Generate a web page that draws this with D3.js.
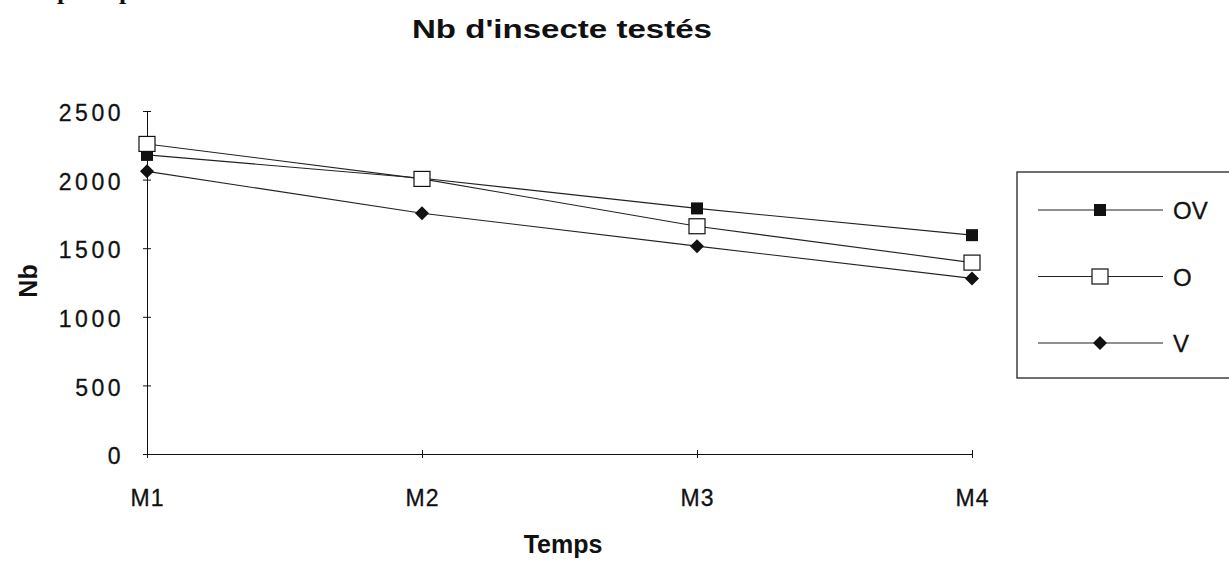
<!DOCTYPE html>
<html>
<head>
<meta charset="utf-8">
<script src="https://cdn.jsdelivr.net/npm/d3@7"></script>
<style>
  body { margin: 0; background: #fff; }
  text { font-family: 'Liberation Sans', Arial, Helvetica, sans-serif; fill: #111; }
</style>
</head>
<body>
<div id="chart-area"></div>
<script>
let categories = ['M1', 'M2', 'M3', 'M4'];
let yTicks = [0, 500, 1000, 1500, 2000, 2500];
let seriesNames = ['OV', 'O', 'V'];
let valuesOV = [2180, 2010, 1790, 1595];
let valuesO = [2260, 2005, 1660, 1395];
let valuesV = [2060, 1755, 1515, 1280];

let width = 1229;
let height = 562;
let series = [
  { name: 'OV', values: valuesOV, marker: 'filled' },
  { name: 'O', values: valuesO, marker: 'open' },
  { name: 'V', values: valuesV, marker: 'diamond' },
];

let xScale = d3.scalePoint().domain(categories).range([147, 972]);
let yScale = d3.scaleLinear().domain([0, 2500]).range([454, 111]);

let svg = d3
  .select('#chart-area')
  .append('svg')
  .attr('width', width)
  .attr('height', height);

//scan leftovers of the text above the chart
svg
  .selectAll('.frag')
  .data([57, 119])
  .enter()
  .append('text')
  .attr('x', (d) => d)
  .attr('y', -1)
  .style('font-family', 'Liberation Serif, serif')
  .style('font-weight', 'bold')
  .attr('font-size', 26)
  .text('p');

//title (the scan is a bit stretched horizontally)
svg
  .append('text')
  .attr('x', 412)
  .attr('y', 38)
  .attr('font-size', 26)
  .attr('font-weight', 'bold')
  .attr('textLength', 300)
  .attr('lengthAdjust', 'spacingAndGlyphs')
  .text("Nb d'insecte testés");

//y axis
let yAxis = svg
  .append('g')
  .attr('transform', 'translate(147,0)')
  .call(
    d3
      .axisLeft(yScale)
      .tickValues(yTicks)
      .tickFormat(d3.format('d'))
      .tickSize(4)
      .tickSizeOuter(0)
      .tickPadding(19),
  );
yAxis.select('.domain').attr('stroke', '#111');
yAxis.selectAll('.tick line').attr('x1', -4).attr('x2', 4).attr('stroke', '#111');
yAxis
  .selectAll('.tick text')
  .attr('font-size', 23)
  .attr('letter-spacing', 3.5)
  .attr('font-family', null)
  .attr('stroke', '#111')
  .attr('stroke-width', 0.3)
  .attr('dy', '0.42em');

//x axis
let xAxis = svg
  .append('g')
  .attr('transform', 'translate(0,454)')
  .call(d3.axisBottom(xScale).tickSize(4).tickSizeOuter(0).tickPadding(32));
xAxis.select('.domain').attr('stroke', '#111');
xAxis.selectAll('.tick line').attr('y1', -4).attr('y2', 4).attr('stroke', '#111');
xAxis
  .selectAll('.tick text')
  .attr('font-size', 23)
  .attr('letter-spacing', 1)
  .attr('font-family', null)
  .attr('stroke', '#111')
  .attr('stroke-width', 0.3);

//axis labels
svg
  .append('text')
  .attr('text-anchor', 'middle')
  .attr('font-size', 25)
  .attr('font-weight', 'bold')
  .attr('transform', 'translate(37,281) rotate(-90)')
  .text('Nb');
svg
  .append('text')
  .attr('x', 563)
  .attr('y', 553)
  .attr('text-anchor', 'middle')
  .attr('font-size', 25)
  .attr('font-weight', 'bold')
  .text('Temps');

//lines + markers
let line = d3
  .line()
  .x((d, i) => xScale(categories[i]))
  .y((d) => yScale(d));

function drawMarker(g, type, x, y) {
  if (type == 'filled') {
    g.append('rect').attr('x', x - 6).attr('y', y - 6).attr('width', 12).attr('height', 12).attr('fill', '#111');
  } else if (type == 'open') {
    g.append('rect')
      .attr('x', x - 8)
      .attr('y', y - 7.5)
      .attr('width', 16)
      .attr('height', 15)
      .attr('fill', '#fff')
      .attr('stroke', '#111')
      .attr('stroke-width', 1.2);
  } else {
    g.append('path')
      .attr('d', `M${x},${y - 7}L${x + 7},${y}L${x},${y + 7}L${x - 7},${y}Z`)
      .attr('fill', '#111');
  }
}

series.forEach((s) => {
  let g = svg.append('g');
  g.append('path')
    .attr('d', line(s.values))
    .attr('fill', 'none')
    .attr('stroke', '#222')
    .attr('stroke-width', 1.1);
  s.values.forEach((v, i) => drawMarker(g, s.marker, xScale(categories[i]), yScale(v)));
});

//legend
let legend = svg.append('g');
legend
  .append('rect')
  .attr('x', 1017)
  .attr('y', 172)
  .attr('width', 300)
  .attr('height', 206)
  .attr('fill', 'none')
  .attr('stroke', '#111')
  .attr('stroke-width', 1.2);
series.forEach((s, i) => {
  let y = 210 + i * 66.5;
  let g = legend.append('g');
  g.append('line')
    .attr('x1', 1038)
    .attr('x2', 1163)
    .attr('y1', y)
    .attr('y2', y)
    .attr('stroke', '#222')
    .attr('stroke-width', 1.1);
  drawMarker(g, s.marker, 1100, y);
  g.append('text')
    .attr('x', 1173)
    .attr('y', y + 9)
    .attr('font-size', 24)
    .attr('stroke', '#111')
    .attr('stroke-width', 0.3)
    .text(seriesNames[i]);
});
</script>
</body>
</html>
